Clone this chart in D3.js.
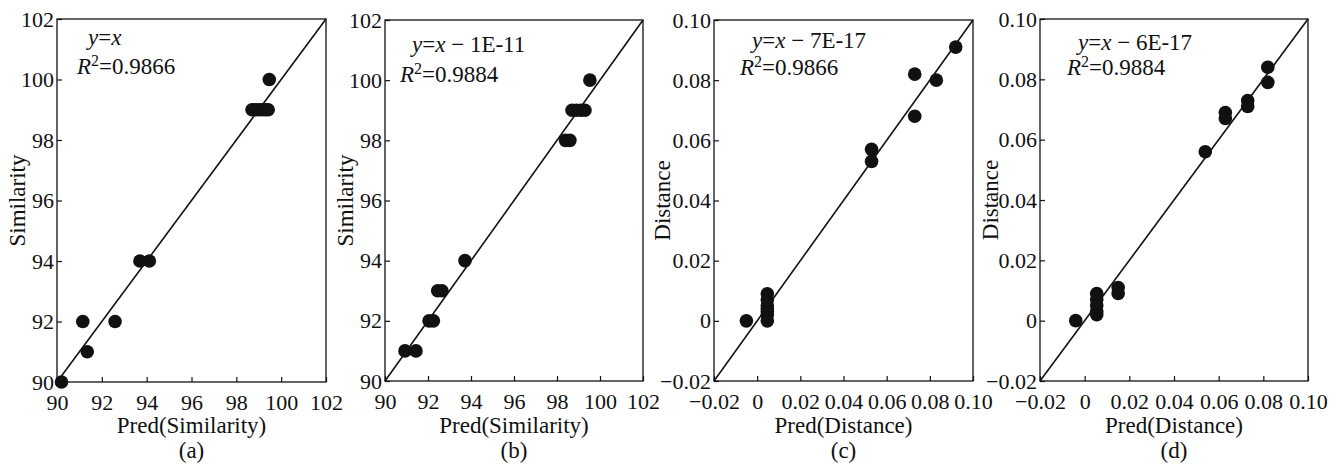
<!DOCTYPE html>
<html>
<head>
<meta charset="utf-8">
<script src="https://cdn.jsdelivr.net/npm/d3@7"></script>
<style>
  body { margin: 0; background: #fff; }
</style>
</head>
<body>
<div id="chart"></div>
<script>
// ticks shared by the panels
var simTicks = [90, 92, 94, 96, 98, 100, 102];
var simTickLabels = ["90", "92", "94", "96", "98", "100", "102"];
var distTicks = [-0.02, 0, 0.02, 0.04, 0.06, 0.08, 0.10];
var distTickLabels = ["\u22120.02", "0", "0.02", "0.04", "0.06", "0.08", "0.10"];

// (a) similarity, model 1
var predSimA = [90.2, 91.15, 91.35, 92.59, 93.7, 94.12, 98.7, 98.85, 99.0, 99.15, 99.3, 99.42, 99.47];
var simA     = [90,   92,    91,    92,    94,   94,    99,   99,    99,   99,    99,   99,    100];

// (b) similarity, model 2
var predSimB = [90.93, 91.44, 92.05, 92.25, 92.45, 92.65, 93.72, 98.4, 98.6, 98.7, 98.9, 99.1, 99.3, 99.53];
var simB     = [91,    91,    92,    92,    93,    93,    94,    98,   98,   99,   99,   99,   99,   100];

// (c) distance, model 1
var predDistC = [-0.005, 0.0047, 0.0047, 0.0047, 0.0047, 0.0047, 0.0047, 0.0047, 0.053, 0.053, 0.073, 0.073, 0.083, 0.092];
var distC     = [0,      0,      0.002,  0.003,  0.004,  0.005,  0.007,  0.009,  0.057, 0.053, 0.082, 0.068, 0.080, 0.091];

// (d) distance, model 2
var predDistD = [-0.004, 0.0054, 0.0054, 0.0054, 0.0054, 0.0054, 0.015, 0.015, 0.054, 0.063, 0.063, 0.073, 0.073, 0.082, 0.082];
var distD     = [0,      0.002,  0.003,  0.005,  0.007,  0.009,  0.011, 0.009, 0.056, 0.069, 0.067, 0.073, 0.071, 0.084, 0.079];

// fit annotations
var intercepts = ["", "1E-11", "7E-17", "6E-17"];
var r2Values = ["0.9866", "0.9884", "0.9866", "0.9884"];
var captions = ["(a)", "(b)", "(c)", "(d)"];

var font = "'Liberation Serif', 'Times New Roman', 'DejaVu Serif', serif";
var fs = 22;   // tick labels
var fsT = 23;  // titles and annotations

var panels = [
  {px: predSimA, py: simA, ticks: simTicks, labels: simTickLabels, xTitle: "Pred(Similarity)", yTitle: "Similarity",
   left: 57, right: 326, top: 19, bottom: 382, yTitleX: 17, eq: [31, 26], r2: [20, 55]},
  {px: predSimB, py: simB, ticks: simTicks, labels: simTickLabels, xTitle: "Pred(Similarity)", yTitle: "Similarity",
   left: 385, right: 643, top: 20, bottom: 381, yTitleX: 345, eq: [27, 32], r2: [15, 62]},
  {px: predDistC, py: distC, ticks: distTicks, labels: distTickLabels, xTitle: "Pred(Distance)", yTitle: "Distance",
   left: 714, right: 973, top: 20, bottom: 381, yTitleX: 662, eq: [38, 28], r2: [26, 55]},
  {px: predDistD, py: distD, ticks: distTicks, labels: distTickLabels, xTitle: "Pred(Distance)", yTitle: "Distance",
   left: 1040, right: 1308, top: 19, bottom: 381, yTitleX: 990, eq: [38, 31], r2: [27, 56]}
];

var svg = d3.select("#chart").append("svg")
  .attr("width", 1337)
  .attr("height", 467)
  .style("font-family", font);

function label(sel, size) {
  return sel.style("font-family", font).style("font-size", (size || fsT) + "px").attr("fill", "#111");
}

panels.forEach(function(p, k) {
  var dom = [p.ticks[0], p.ticks[p.ticks.length - 1]];
  var x = d3.scaleLinear().domain(dom).range([p.left, p.right]);
  var y = d3.scaleLinear().domain(dom).range([p.bottom, p.top]);

  var g = svg.append("g");

  // axes, ticks pointing inward
  var xAxis = g.append("g")
    .attr("transform", "translate(0," + p.bottom + ")")
    .call(d3.axisBottom(x).tickValues(p.ticks).tickSize(-5).tickPadding(12)
      .tickFormat(function(d, i) { return p.labels[i]; }));
  var yAxis = g.append("g")
    .attr("transform", "translate(" + p.left + ",0)")
    .call(d3.axisLeft(y).tickValues(p.ticks).tickSize(-5).tickPadding(3)
      .tickFormat(function(d, i) { return p.labels[i]; }));

  [xAxis, yAxis].forEach(function(a) {
    a.attr("font-family", null).attr("font-size", null);
    a.select(".domain").remove();
    a.selectAll("line").attr("stroke", "#111").attr("stroke-width", 1.2);
    label(a.selectAll("text"), fs);
  });

  // frame
  g.append("rect")
    .attr("x", p.left).attr("y", p.top)
    .attr("width", p.right - p.left).attr("height", p.bottom - p.top)
    .attr("fill", "none").attr("stroke", "#111").attr("stroke-width", 1.3);

  // y = x line
  g.append("line")
    .attr("x1", x(dom[0])).attr("y1", y(dom[0]))
    .attr("x2", x(dom[1])).attr("y2", y(dom[1]))
    .attr("stroke", "#111").attr("stroke-width", 1.6);

  // points
  g.selectAll("circle")
    .data(p.px)
    .enter()
    .append("circle")
      .attr("cx", function(d) { return x(d); })
      .attr("cy", function(d, i) { return y(p.py[i]); })
      .attr("r", 6.8)
      .attr("fill", "#111");

  // equation
  var eq = label(g.append("text"))
    .attr("x", p.left + p.eq[0]).attr("y", p.top + p.eq[1]);
  eq.append("tspan").attr("font-style", "italic").text("y");
  eq.append("tspan").text("=");
  eq.append("tspan").attr("font-style", "italic").text("x");
  if (intercepts[k]) eq.append("tspan").text(" \u2212 " + intercepts[k]);

  var r2 = label(g.append("text"))
    .attr("x", p.left + p.r2[0]).attr("y", p.top + p.r2[1]);
  r2.append("tspan").attr("font-style", "italic").text("R");
  r2.append("tspan").attr("dy", -8).style("font-size", "16px").text("2");
  r2.append("tspan").attr("dy", 8).text("=" + r2Values[k]);

  // titles
  label(g.append("text"))
    .attr("x", (p.left + p.right) / 2).attr("y", 433)
    .attr("text-anchor", "middle")
    .text(p.xTitle);

  label(g.append("text"))
    .attr("transform", "translate(" + p.yTitleX + "," + (p.top + p.bottom) / 2 + ") rotate(-90)")
    .attr("text-anchor", "middle")
    .attr("dy", "0.35em")
    .text(p.yTitle);

  label(g.append("text"))
    .attr("x", (p.left + p.right) / 2).attr("y", 458)
    .attr("text-anchor", "middle")
    .text(captions[k]);
});
</script>
</body>
</html>
